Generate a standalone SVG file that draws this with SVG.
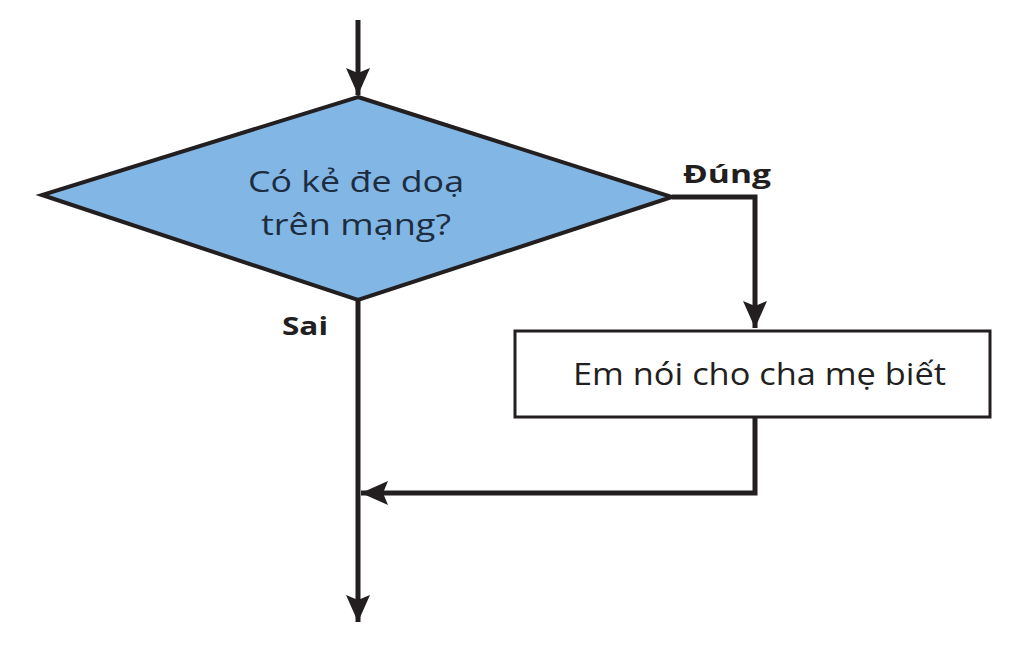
<svg xmlns="http://www.w3.org/2000/svg" width="1024" height="652" viewBox="0 0 1024 652">
<style>
.line{fill:none;stroke:#231f20;stroke-width:5;}
.lbl{font-family:"Open Sans","Noto Sans",sans-serif;font-weight:bold;font-size:25px;fill:#231f20;}
.txt{font-family:"Open Sans","Noto Sans",sans-serif;font-size:30px;fill:#231f20;}
.dtxt{fill:#1d2d3f;}
</style>
<defs>
<marker id="arr" markerUnits="userSpaceOnUse" markerWidth="30" markerHeight="26" refX="27" refY="12" orient="auto" viewBox="0 0 30 24">
<path d="M0,0 L27,12 L0,24 L5,12 Z" fill="#231f20"/>
</marker>
</defs>
<rect width="1024" height="652" fill="#ffffff"/>
<g id="connectors">
<path class="line" d="M358,20 L358,95" marker-end="url(#arr)"/>
<path class="line" d="M672,197 L755,197 L755,328" marker-end="url(#arr)"/>
<path class="line" d="M755,417 L755,493 L361,493" marker-end="url(#arr)"/>
<path class="line" d="M358,300 L358,622" marker-end="url(#arr)"/>
</g>
<g id="decision">
<polygon points="358,97 672,197 358,300 42,195" fill="#82b6e4" stroke="#231f20" stroke-width="4" stroke-linejoin="miter"/>
<text class="txt dtxt" x="248" y="192" font-size="29" textLength="216" lengthAdjust="spacingAndGlyphs">Có kẻ đe doạ</text>
<text class="txt dtxt" x="261" y="235" font-size="29" textLength="190" lengthAdjust="spacingAndGlyphs">trên mạng?</text>
</g>
<g id="action">
<rect x="515" y="331" width="475" height="86" fill="#ffffff" stroke="#231f20" stroke-width="3"/>
<text class="txt" x="573" y="385" style="font-size:31px" textLength="373" lengthAdjust="spacingAndGlyphs">Em nói cho cha mẹ biết</text>
</g>
<g id="labels">
<text class="lbl" x="683" y="183" textLength="88" lengthAdjust="spacingAndGlyphs">Đúng</text>
<text class="lbl" x="282" y="335" textLength="46" lengthAdjust="spacingAndGlyphs">Sai</text>
</g>
</svg>
